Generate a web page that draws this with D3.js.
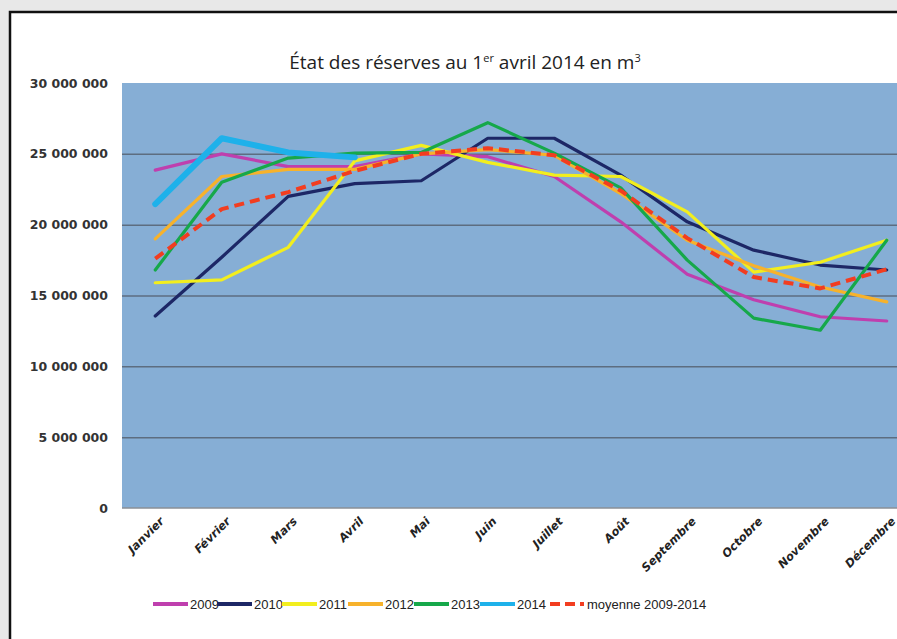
<!DOCTYPE html>
<meta charset="utf-8">
<script src="https://cdn.jsdelivr.net/npm/d3@7"></script>
<style type="text/css">
  body { margin: 0; background: #e8e8e8; }
  .grid line { stroke: #5d6d80; stroke-width: 1.5; }
  .grid path { display: none; }
  .yaxis path, .xaxis path { display: none; }
  .serie { fill: none; stroke-linejoin: round; stroke-linecap: round; }
</style>
<body>
<script>

// données (m3)
var months = ["Janvier", "Février", "Mars", "Avril", "Mai", "Juin", "Juillet", "Août", "Septembre", "Octobre", "Novembre", "Décembre"];
var yTicks = [0, 5000000, 10000000, 15000000, 20000000, 25000000, 30000000];

var s2009 = [23850000, 25000000, 24100000, 24100000, 25000000, 24800000, 23400000, 20200000, 16500000, 14700000, 13500000, 13200000];
var s2010 = [13550000, 17700000, 22000000, 22900000, 23100000, 26100000, 26100000, 23500000, 20200000, 18200000, 17150000, 16800000];
var s2011 = [15900000, 16100000, 18400000, 24500000, 25600000, 24400000, 23500000, 23400000, 20900000, 16650000, 17350000, 18900000];
var s2012 = [19000000, 23400000, 23900000, 23900000, 25000000, 25300000, 24900000, 22200000, 18900000, 17100000, 15600000, 14550000];
var s2013 = [16800000, 23000000, 24700000, 25050000, 25100000, 27200000, 25050000, 22600000, 17500000, 13400000, 12550000, 18900000];
var s2014 = [21450000, 26100000, 25100000, 24750000];
var moyenne = [17600000, 21100000, 22300000, 23800000, 25000000, 25400000, 24900000, 22400000, 19050000, 16300000, 15500000, 16850000];

var seriesNames = ["2009", "2010", "2011", "2012", "2013", "2014", "moyenne 2009-2014"];
var seriesValues = [s2009, s2010, s2011, s2012, s2013, s2014, moyenne];
var seriesColors = ["#bf3fae", "#1d2766", "#f2ee1e", "#f7b22b", "#16a84a", "#1eb1ea", "#f23d20"];
var seriesWidths = [3.2, 3.2, 3.2, 3.2, 3.2, 6, 4];

var W = 897, H = 639;
var plot = {left: 122, right: 920, top: 83, bottom: 508};

var svg = d3.select("body").append("svg")
    .attr("width", W)
    .attr("height", H);

// cadre
svg.append("rect")
    .attr("x", 10).attr("y", 12)
    .attr("width", W + 20).attr("height", H + 20)
    .style("fill", "#fff")
    .style("stroke", "#111")
    .style("stroke-width", 2.5);

var xScale = d3.scalePoint()
    .domain(months)
    .range([plot.left, plot.right])
    .padding(0.5);

var yScale = d3.scaleLinear()
    .domain([0, 30000000])
    .range([plot.bottom, plot.top]);

// fond du graphique
svg.append("rect")
    .attr("x", plot.left).attr("y", plot.top)
    .attr("width", plot.right - plot.left)
    .attr("height", plot.bottom - plot.top)
    .style("fill", "#86aed5");

// lignes de grille
svg.append("g")
    .attr("class", "grid")
    .attr("transform", `translate(${plot.left},0)`)
    .call(d3.axisLeft(yScale).tickValues(yTicks.slice(1, -1)).tickSize(-(plot.right - plot.left)).tickFormat(""));

svg.append("line")
    .attr("x1", plot.left).attr("x2", plot.right)
    .attr("y1", yScale(0)).attr("y2", yScale(0))
    .style("stroke", "#8a8f96").style("stroke-width", 1.5);

// axe y
var fmt = d => d3.format(",")(d).replace(/,/g, "\u00a0");
var yAxisGroup = svg.append("g")
    .attr("class", "yaxis")
    .attr("transform", `translate(108,0)`)
    .call(d3.axisLeft(yScale).tickValues(yTicks).tickSize(0).tickPadding(0).tickFormat(fmt))
    .attr("font-size", 12.5)
    .attr("font-family", "DejaVu Sans, Verdana, sans-serif")
    .attr("font-weight", "bold");

yAxisGroup.selectAll("text")
    .attr("fill", "#333");

// axe x
var xAxisGroup = svg.append("g")
    .attr("class", "xaxis")
    .attr("transform", `translate(0,${plot.bottom})`)
    .call(d3.axisBottom(xScale).tickSize(0))
    .attr("font-size", 11.5)
    .attr("font-family", "DejaVu Sans, Verdana, sans-serif")
    .attr("font-weight", "bold")
    .attr("font-style", "oblique");

xAxisGroup.selectAll("text")
    .attr("dy", null)
    .attr("y", 0)
    .attr("text-anchor", "end")
    .attr("fill", "#222")
    .attr("transform", d => `translate(9,14) rotate(-45)`);

// séries
var line = d3.line()
    .x((d, i) => xScale(months[i]))
    .y(d => yScale(d));

seriesValues.forEach(function(vals, k) {
    svg.append("path")
        .attr("class", "serie")
        .attr("d", line(vals))
        .style("stroke", seriesColors[k])
        .style("stroke-width", seriesWidths[k])
        .style("stroke-dasharray", k == 6 ? "10,6" : null)
        .style("stroke-linecap", k == 6 ? "butt" : "round");
});

// titre
var title = svg.append("text")
    .attr("x", 465)
    .attr("y", 69)
    .style("text-anchor", "middle")
    .style("font-family", "'Open Sans', sans-serif")
    .style("font-size", "19px")
    .style("fill", "#222");
title.append("tspan").text("État des réserves au 1");
title.append("tspan").attr("dy", -7).style("font-size", "11px").text("er");
title.append("tspan").attr("dy", 7).text(" avril 2014 en m");
title.append("tspan").attr("dy", -7).style("font-size", "11px").text("3");

// légende
var legendX = [153, 217, 282, 348, 414, 480, 550];
var legend = svg.append("g");
seriesNames.forEach(function(name, k) {
    var g = legend.append("g").attr("transform", `translate(${legendX[k]},604)`);
    g.append("line")
        .attr("x1", 0).attr("x2", 35)
        .style("stroke", seriesColors[k])
        .style("stroke-width", 4)
        .style("stroke-dasharray", k == 6 ? "10,5,10,5,4" : null);
    g.append("text")
        .attr("x", 37)
        .attr("y", 4.5)
        .style("font-family", "'Liberation Sans', Arial, sans-serif")
        .style("font-size", "13px")
        .style("fill", "#222")
        .text(name);
});

</script>
</body>
</html>
